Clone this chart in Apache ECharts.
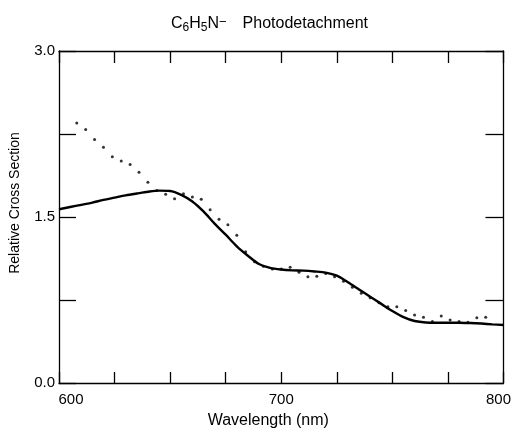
<!DOCTYPE html>
<html>
<head>
<meta charset="utf-8">
<script src="https://cdn.jsdelivr.net/npm/echarts@6/dist/echarts.min.js"></script>
<style>html,body{margin:0;padding:0;background:#fff}#c{width:514px;height:435px}</style>
</head>
<body>
<div id="c"></div>
<script>
// Wavelength (nm) axis ticks and labels
const xTickLabels = [600, 700, 800];
const yTickLabels = [0.0, 1.5, 3.0];

// Solid curve (fit), read every 5 nm
const solidX = [600, 605, 610, 615, 620, 625, 630, 635, 640, 645, 650, 655, 660, 665, 670, 675, 680, 685, 690, 695, 700, 705, 710, 715, 720, 725, 730, 735, 740, 745, 750, 755, 760, 765, 770, 775, 780, 785, 790, 795, 800];
const solidY = [1.57, 1.59, 1.61, 1.63, 1.655, 1.675, 1.695, 1.712, 1.728, 1.738, 1.735, 1.70, 1.64, 1.55, 1.44, 1.34, 1.235, 1.15, 1.075, 1.04, 1.025, 1.018, 1.015, 1.008, 0.998, 0.97, 0.91, 0.845, 0.78, 0.715, 0.65, 0.595, 0.56, 0.547, 0.545, 0.545, 0.545, 0.542, 0.537, 0.53, 0.524];

// Measured points (dots)
const dotX = [608, 612, 616, 620, 624, 628, 632, 636, 640, 644, 648, 652, 656, 660, 664, 668, 672, 676, 680, 684, 688, 692, 696, 700, 704, 708, 712, 716, 720, 724, 728, 732, 736, 740, 744, 748, 752, 756, 760, 764, 768, 772, 776, 780, 784, 788, 792];
const dotY = [2.35, 2.29, 2.20, 2.13, 2.045, 2.005, 1.975, 1.905, 1.815, 1.74, 1.705, 1.665, 1.71, 1.68, 1.66, 1.565, 1.48, 1.43, 1.335, 1.185, 1.095, 1.055, 1.03, 1.03, 1.045, 1.0, 0.96, 0.965, 0.99, 0.96, 0.92, 0.865, 0.81, 0.77, 0.725, 0.69, 0.69, 0.655, 0.615, 0.595, 0.555, 0.605, 0.57, 0.555, 0.55, 0.59, 0.595];

const FONT = 'Liberation Sans';
const chart = echarts.init(document.getElementById('c'), null, {renderer: 'canvas'});

const axisCommon = {
  type: 'value',
  axisLine: {show: true, onZero: false, lineStyle: {color: '#000', width: 1.3}},
  splitLine: {show: false}
};

chart.setOption({
  animation: false,
  backgroundColor: '#fff',
  title: {
    text: '{b|C}{s|6}{b|H}{s|5}{b|N}{u|−}{p|Photodetachment}',
    left: 166,
    top: 11,
    textStyle: {
      fontFamily: FONT,
      fontWeight: 'normal',
      rich: {
        b: {fontFamily: FONT, fontWeight: 'normal', fontSize: 16, color: '#000', lineHeight: 18, verticalAlign: 'top'},
        s: {fontFamily: FONT, fontWeight: 'normal', fontSize: 12, color: '#000', lineHeight: 18, padding: [6, 0, 0, 0], verticalAlign: 'bottom'},
        u: {fontFamily: FONT, fontWeight: 'normal', fontSize: 13, color: '#000', lineHeight: 8, verticalAlign: 'top'},
        p: {fontFamily: FONT, fontWeight: 'normal', fontSize: 16, color: '#000', lineHeight: 18, padding: [0, 0, 0, 16], verticalAlign: 'top'}
      }
    }
  },
  grid: {left: 57, right: 9, top: 51, bottom: 52, containLabel: false},
  xAxis: [
    Object.assign({}, axisCommon, {
      position: 'bottom',
      min: 600, max: 800, interval: 25,
      name: 'Wavelength (nm)',
      nameLocation: 'middle',
      nameGap: 30,
      nameTextStyle: {fontFamily: FONT, fontSize: 16, color: '#000', padding: [0, 26, 0, 0]},
      axisTick: {show: true, inside: true, length: 11, lineStyle: {color: '#000', width: 1.3}},
      axisLabel: {
        show: true, margin: 9, fontFamily: FONT, fontSize: 15, color: '#000',
        showMinLabel: true, showMaxLabel: true,
        formatter: function (v) {
          if (xTickLabels.indexOf(v) < 0) return '';
          if (v === xTickLabels[0]) return '{a|' + v + '}';
          if (v === xTickLabels[xTickLabels.length - 1]) return '{c|' + v + '}';
          return String(v);
        },
        rich: {
          a: {fontFamily: FONT, fontSize: 15, color: '#000', padding: [0, 0, 0, 24]},
          c: {fontFamily: FONT, fontSize: 15, color: '#000', padding: [0, 10, 0, 0]}
        }
      }
    }),
    Object.assign({}, axisCommon, {
      position: 'top',
      min: 600, max: 800, interval: 25,
      axisTick: {show: true, inside: true, length: 12, lineStyle: {color: '#000', width: 1.3}},
      axisLabel: {show: false}
    })
  ],
  yAxis: [
    Object.assign({}, axisCommon, {
      position: 'left',
      min: 0, max: 3, interval: 0.75,
      name: 'Relative Cross Section',
      nameLocation: 'middle',
      nameGap: 37,
      nameTextStyle: {fontFamily: FONT, fontSize: 14, color: '#000', padding: [0, 0, 0, 28]},
      axisTick: {show: true, inside: true, length: 17, lineStyle: {color: '#000', width: 1.3}},
      axisLabel: {
        show: true, margin: 4, fontFamily: FONT, fontSize: 15, color: '#000',
        formatter: function (v) {
          for (let i = 0; i < yTickLabels.length; i++) {
            if (Math.abs(yTickLabels[i] - v) < 1e-9) return yTickLabels[i].toFixed(1);
          }
          return '';
        }
      }
    }),
    Object.assign({}, axisCommon, {
      position: 'right',
      min: 0, max: 3, interval: 0.75,
      axisTick: {show: true, inside: true, length: 18, lineStyle: {color: '#000', width: 1.3}},
      axisLabel: {show: false}
    })
  ],
  series: [
    {
      type: 'line',
      xAxisIndex: 0, yAxisIndex: 0,
      data: solidX.map((x, i) => [x, solidY[i]]),
      smooth: 0.3,
      showSymbol: false,
      lineStyle: {color: '#000', width: 2.4},
      z: 3
    },
    {
      type: 'scatter',
      xAxisIndex: 0, yAxisIndex: 0,
      data: dotX.map((x, i) => [x, dotY[i]]),
      symbol: 'circle',
      symbolSize: 3,
      itemStyle: {color: '#000'},
      z: 4
    }
  ]
});
</script>
</body>
</html>
